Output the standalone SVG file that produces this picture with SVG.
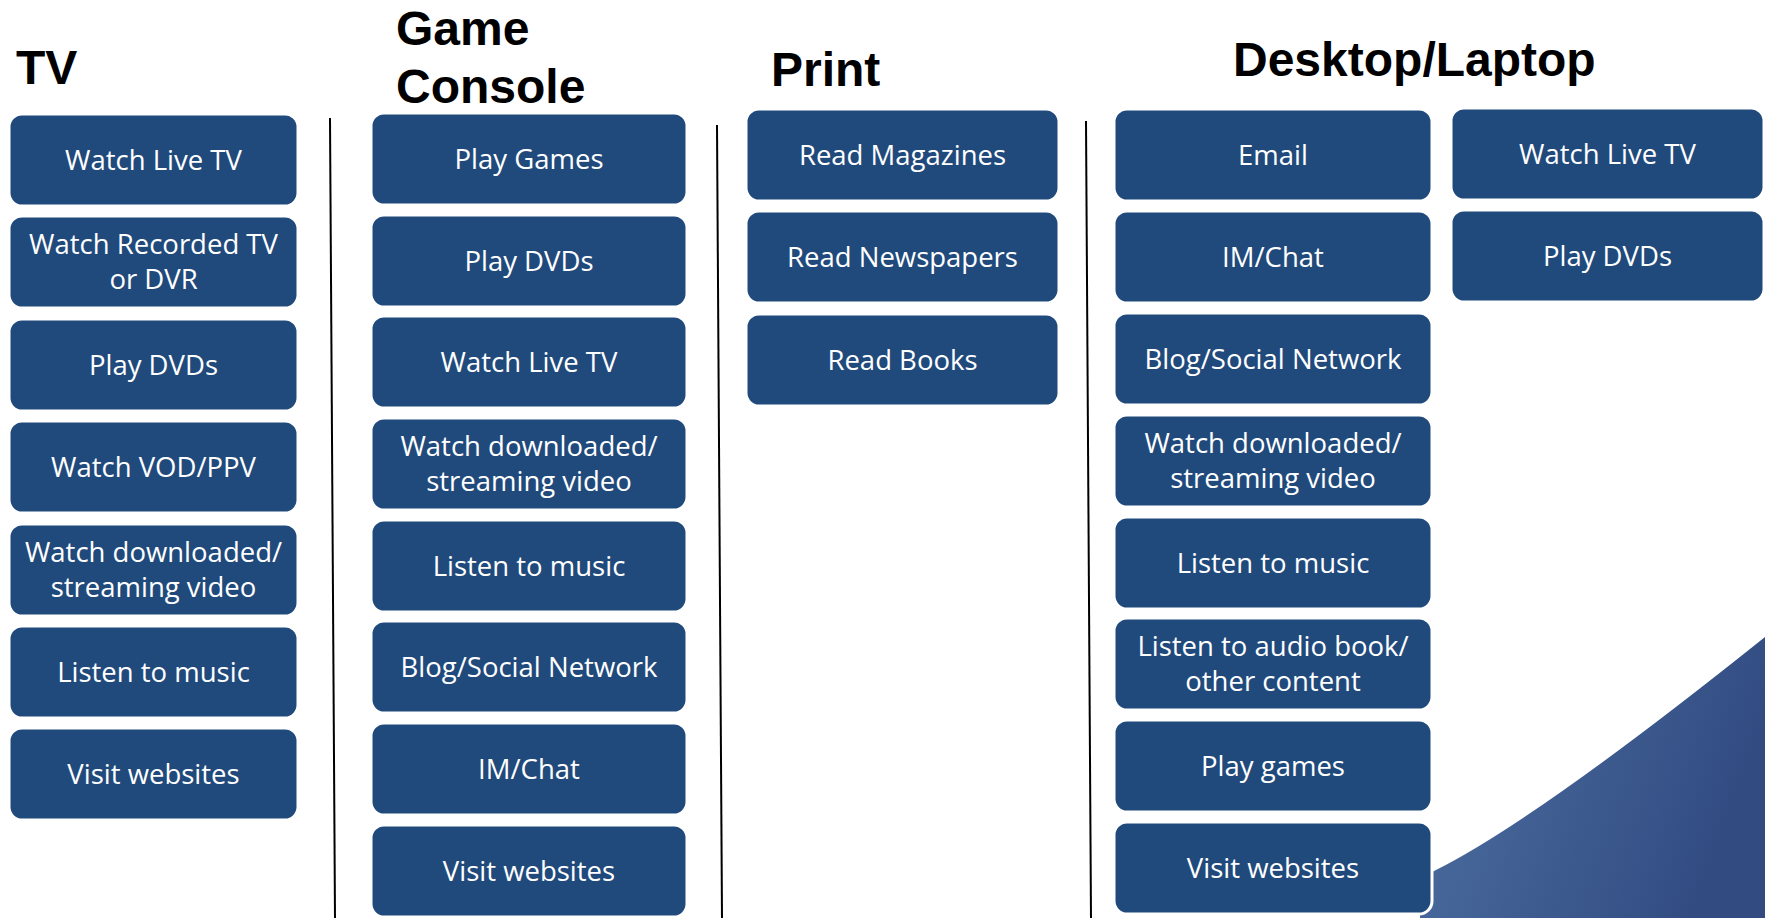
<svg xmlns="http://www.w3.org/2000/svg" width="1765" height="918" viewBox="0 0 1765 918">
<style>
.title{font-family:"Liberation Sans",Arial,sans-serif;font-weight:bold;font-size:48px;fill:#000}
.box{fill:#214A7C;stroke:#fff;stroke-width:3}
.lbl{font-family:"Open Sans","Noto Sans",sans-serif;font-size:27.5px;fill:#fff;text-anchor:middle}
.div{stroke:#000;stroke-width:2;fill:none}
</style>
<defs>
<linearGradient id="bg" x1="0" y1="0" x2="1" y2="0.3">
<stop offset="0" stop-color="#4E70A2"/>
<stop offset="1" stop-color="#324C82"/>
</linearGradient>
</defs>
<rect width="1765" height="918" fill="#fff"/>
<path d="M1420 918 L1420 878 L1436 870 Q1536.7 819.7 1765 637 L1765 918 Z" fill="url(#bg)"/>
<g id="titles">
<text class="title" x="16" y="84">TV</text>
<text class="title" x="396" y="45">Game</text>
<text class="title" x="396" y="103">Console</text>
<text class="title" x="771" y="86">Print</text>
<text class="title" x="1233" y="76">Desktop/Laptop</text>
</g>
<g id="connectors">
<line class="div" x1="330" y1="118" x2="335" y2="918"/>
<line class="div" x1="717" y1="125" x2="722" y2="918"/>
<line class="div" x1="1086" y1="121" x2="1091" y2="918"/>
</g>
<g id="tv">
<g id="tv1"><rect class="box" x="9" y="114" width="289" height="92" rx="13"/><text class="lbl" x="153.5" y="170">Watch Live TV</text></g>
<g id="tv2"><rect class="box" x="9" y="216" width="289" height="92" rx="13"/><text class="lbl" x="153.5" y="254">Watch Recorded TV</text><text class="lbl" x="153.5" y="289">or DVR</text></g>
<g id="tv3"><rect class="box" x="9" y="319" width="289" height="92" rx="13"/><text class="lbl" x="153.5" y="375">Play DVDs</text></g>
<g id="tv4"><rect class="box" x="9" y="421" width="289" height="92" rx="13"/><text class="lbl" x="153.5" y="477">Watch VOD/PPV</text></g>
<g id="tv5"><rect class="box" x="9" y="524" width="289" height="92" rx="13"/><text class="lbl" x="153.5" y="562">Watch downloaded/</text><text class="lbl" x="153.5" y="597">streaming video</text></g>
<g id="tv6"><rect class="box" x="9" y="626" width="289" height="92" rx="13"/><text class="lbl" x="153.5" y="682">Listen to music</text></g>
<g id="tv7"><rect class="box" x="9" y="728" width="289" height="92" rx="13"/><text class="lbl" x="153.5" y="784">Visit websites</text></g>
</g>
<g id="game">
<g id="g1"><rect class="box" x="371" y="113" width="316" height="92" rx="13"/><text class="lbl" x="529" y="169">Play Games</text></g>
<g id="g2"><rect class="box" x="371" y="215" width="316" height="92" rx="13"/><text class="lbl" x="529" y="271">Play DVDs</text></g>
<g id="g3"><rect class="box" x="371" y="316" width="316" height="92" rx="13"/><text class="lbl" x="529" y="372">Watch Live TV</text></g>
<g id="g4"><rect class="box" x="371" y="418" width="316" height="92" rx="13"/><text class="lbl" x="529" y="456">Watch downloaded/</text><text class="lbl" x="529" y="491">streaming video</text></g>
<g id="g5"><rect class="box" x="371" y="520" width="316" height="92" rx="13"/><text class="lbl" x="529" y="576">Listen to music</text></g>
<g id="g6"><rect class="box" x="371" y="621" width="316" height="92" rx="13"/><text class="lbl" x="529" y="677">Blog/Social Network</text></g>
<g id="g7"><rect class="box" x="371" y="723" width="316" height="92" rx="13"/><text class="lbl" x="529" y="779">IM/Chat</text></g>
<g id="g8"><rect class="box" x="371" y="825" width="316" height="92" rx="13"/><text class="lbl" x="529" y="881">Visit websites</text></g>
</g>
<g id="print">
<g id="p1"><rect class="box" x="746" y="109" width="313" height="92" rx="13"/><text class="lbl" x="902.5" y="165">Read Magazines</text></g>
<g id="p2"><rect class="box" x="746" y="211" width="313" height="92" rx="13"/><text class="lbl" x="902.5" y="267">Read Newspapers</text></g>
<g id="p3"><rect class="box" x="746" y="314" width="313" height="92" rx="13"/><text class="lbl" x="902.5" y="370">Read Books</text></g>
</g>
<g id="desktop">
<g id="d1"><rect class="box" x="1114" y="109" width="318" height="92" rx="13"/><text class="lbl" x="1273" y="165">Email</text></g>
<g id="d2"><rect class="box" x="1114" y="211" width="318" height="92" rx="13"/><text class="lbl" x="1273" y="267">IM/Chat</text></g>
<g id="d3"><rect class="box" x="1114" y="313" width="318" height="92" rx="13"/><text class="lbl" x="1273" y="369">Blog/Social Network</text></g>
<g id="d4"><rect class="box" x="1114" y="415" width="318" height="92" rx="13"/><text class="lbl" x="1273" y="453">Watch downloaded/</text><text class="lbl" x="1273" y="488">streaming video</text></g>
<g id="d5"><rect class="box" x="1114" y="517" width="318" height="92" rx="13"/><text class="lbl" x="1273" y="573">Listen to music</text></g>
<g id="d6"><rect class="box" x="1114" y="618" width="318" height="92" rx="13"/><text class="lbl" x="1273" y="656">Listen to audio book/</text><text class="lbl" x="1273" y="691">other content</text></g>
<g id="d7"><rect class="box" x="1114" y="720" width="318" height="92" rx="13"/><text class="lbl" x="1273" y="776">Play games</text></g>
<g id="d8"><rect class="box" x="1114" y="822" width="318" height="92" rx="13"/><text class="lbl" x="1273" y="878">Visit websites</text></g>
<g id="d9"><rect class="box" x="1451" y="108" width="313" height="92" rx="13"/><text class="lbl" x="1607.5" y="164">Watch Live TV</text></g>
<g id="d10"><rect class="box" x="1451" y="210" width="313" height="92" rx="13"/><text class="lbl" x="1607.5" y="266">Play DVDs</text></g>
</g>
</svg>
